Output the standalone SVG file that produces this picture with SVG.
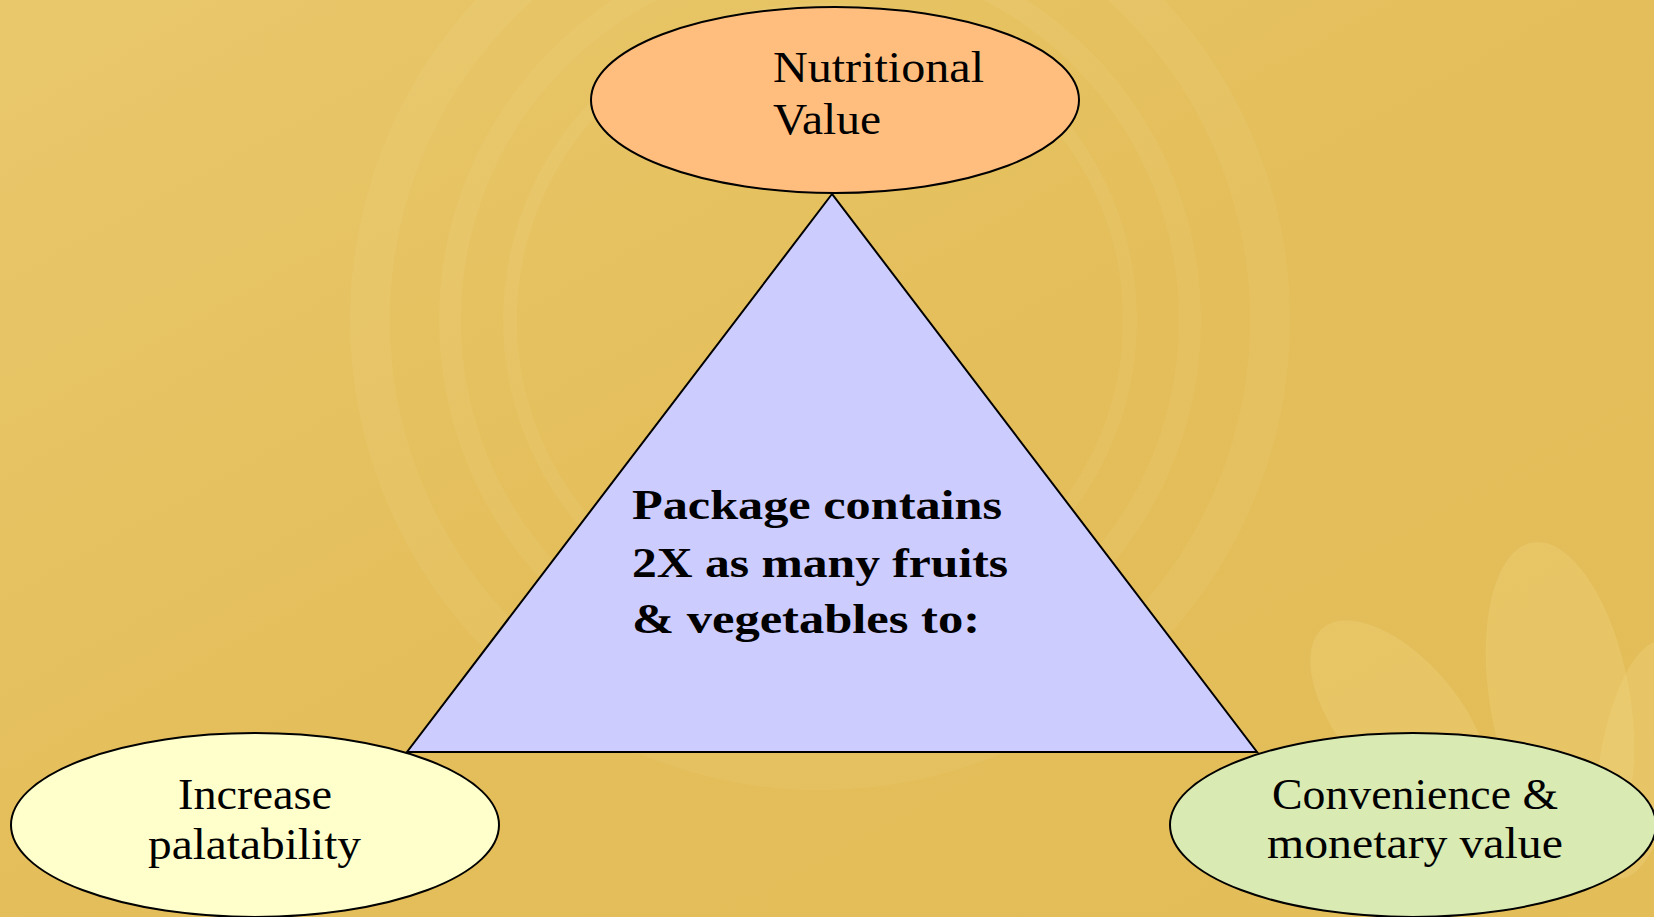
<svg xmlns="http://www.w3.org/2000/svg" width="1654" height="917" viewBox="0 0 1654 917">
  <defs>
    <linearGradient id="bg" x1="0" y1="0" x2="1" y2="1">
      <stop offset="0" stop-color="#E9C86C"/>
      <stop offset="0.5" stop-color="#E4BE5A"/>
      <stop offset="1" stop-color="#E3BD58"/>
    </linearGradient>
    <style>
      .shape { stroke: #000; stroke-width: 2; }
      .lbl { font-family: "Liberation Serif", "DejaVu Serif", serif; font-size: 44px; fill: #000; }
      .bold { font-family: "Liberation Serif", "DejaVu Serif", serif; font-size: 42px; font-weight: bold; fill: #000; }
      .ring { fill: none; stroke: #FFF3C0; stroke-opacity: 0.07; }
      .leaf { fill: #F3DC8C; fill-opacity: 0.25; }
    </style>
  </defs>

  <g id="background">
    <rect x="0" y="0" width="1654" height="917" fill="url(#bg)"/>
    <circle class="ring" cx="820" cy="320" r="450" stroke-width="40"/>
    <circle class="ring" cx="820" cy="320" r="370" stroke-width="22"/>
    <circle class="ring" cx="820" cy="320" r="310" stroke-width="14"/>
    <ellipse class="leaf" cx="1560" cy="700" rx="70" ry="160" transform="rotate(-10 1560 700)"/>
    <ellipse class="leaf" cx="1400" cy="720" rx="60" ry="120" transform="rotate(-40 1400 720)"/>
    <ellipse class="leaf" cx="1640" cy="760" rx="40" ry="120" transform="rotate(10 1640 760)"/>
  </g>

  <g id="center-triangle">
    <polygon class="shape" points="832,194 407,752 1257,752" fill="#CCCCFF"/>
    <text class="bold" x="632" y="519" textLength="370" lengthAdjust="spacingAndGlyphs">Package contains</text>
    <text class="bold" x="632" y="577" textLength="376" lengthAdjust="spacingAndGlyphs">2X as many fruits</text>
    <text class="bold" x="632" y="633" textLength="348" lengthAdjust="spacingAndGlyphs">&amp; vegetables to:</text>
  </g>

  <g id="connectors"></g>

  <g id="node-nutritional">
    <ellipse class="shape" cx="835" cy="100" rx="244" ry="93" fill="#FFBE7E"/>
    <text class="lbl" x="773" y="82" textLength="211" lengthAdjust="spacingAndGlyphs">Nutritional</text>
    <text class="lbl" x="773" y="134" textLength="108" lengthAdjust="spacingAndGlyphs">Value</text>
  </g>

  <g id="node-palatability">
    <ellipse class="shape" cx="255" cy="825" rx="244" ry="92" fill="#FFFFCC"/>
    <text class="lbl" x="178" y="809" textLength="154" lengthAdjust="spacingAndGlyphs">Increase</text>
    <text class="lbl" x="148" y="859" textLength="213" lengthAdjust="spacingAndGlyphs">palatability</text>
  </g>

  <g id="node-convenience">
    <ellipse class="shape" cx="1413" cy="825" rx="243" ry="92" fill="#D9EAB3"/>
    <text class="lbl" x="1272" y="809" textLength="286" lengthAdjust="spacingAndGlyphs">Convenience &amp;</text>
    <text class="lbl" x="1267" y="858" textLength="296" lengthAdjust="spacingAndGlyphs">monetary value</text>
  </g>
</svg>
